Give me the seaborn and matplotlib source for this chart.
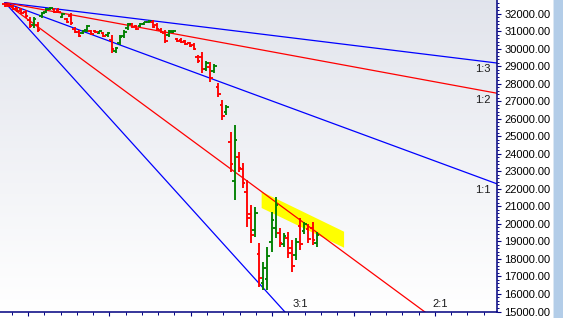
import numpy as np
import pandas as pd
import matplotlib
matplotlib.use("Agg")
import matplotlib.pyplot as plt
from matplotlib.patches import Rectangle, Polygon
import seaborn as sns

# ---------------- data ----------------
bar_index = list(range(77))
highs = [32626, 32592, 32495, 32380, 32323, 32209, 31810, 31810, 31524, 32095,
         32323, 32380, 32323, 32323, 32038, 31753, 32038, 31239, 31068, 31068,
         31353, 31068, 31068, 31028, 30953, 30971, 30782, 30114, 30782, 31068,
         31467, 31467, 31353, 31467, 31541, 31638, 31638, 31450, 31165, 31068,
         31068, 31068, 30594, 30594, 30497, 30400, 30326, 29641, 29812, 29298,
         29241, 29127, 28042, 27072, 26787, 25245, 25645, 24104, 23476, 22506,
         21079, 20964, 18910, 17825, 18681, 20679, 21535, 19766, 19480, 19537,
         19081, 19195, 20338, 20108, 19994, 20108, 19537]
lows = [32398, 32380, 32209, 32095, 31981, 31753, 31182, 31182, 30953, 31753,
        32038, 32209, 32038, 32038, 31753, 31467, 31353, 30896, 30668, 30839,
        30953, 30782, 30896, 30839, 30668, 30685, 29755, 29755, 30211, 30611,
        31068, 31182, 31068, 31239, 31353, 31467, 31165, 31068, 30879, 30308,
        30685, 30896, 30400, 30308, 30211, 30114, 29926, 29184, 28613, 28727,
        28099, 28613, 27243, 25930, 26216, 22962, 21364, 22962, 22049, 19823,
        18910, 19252, 16398, 16227, 16227, 18396, 19195, 18681, 18681, 18053,
        17254, 17939, 18510, 19423, 18910, 18795, 18681]
opens = [32570, 32540, 32420, 32310, 32240, 32100, 31650, 31340, 31380, 31840,
         32110, 32250, 32250, 32200, 31820, 31680, 31870, 31150, 30970, 30900,
         31050, 31000, 31030, 30890, 30880, 30760, 30520, 29850, 30350, 30720,
         31170, 31400, 31280, 31300, 31400, 31510, 31520, 31350, 31090, 30880,
         30780, 30940, 30550, 30520, 30420, 30330, 30230, 29530, 29510, 28870,
         28960, 28740, 27840, 26790, 26360, 24680, 22430, 23820, 23120, 21840,
         20540, 19680, 18280, 16630, 16840, 18970, 19780, 19500, 18880, 19170,
         18620, 18250, 19880, 19590, 19720, 19780, 18890]
closes = [32440, 32420, 32270, 32150, 32050, 31840, 31310, 31680, 31070, 32030,
          32270, 32350, 32100, 32080, 31980, 31520, 31490, 30960, 30750, 31020,
          31270, 30840, 30930, 30990, 30720, 30910, 29960, 30040, 30670, 30980,
          31390, 31240, 31120, 31420, 31500, 31600, 31260, 31150, 30940, 30460,
          30990, 31030, 30440, 30360, 30270, 30170, 30010, 29280, 28850, 29180,
          28330, 29020, 27400, 26160, 26670, 23420, 24790, 23190, 22330, 20360,
          19340, 20620, 16900, 17510, 18190, 20220, 21070, 18900, 19320, 18350,
          17620, 18940, 18880, 19970, 19130, 19060, 19370]

# Gann fan
fan_origin_x = 0
fan_origin_price = 32630
fan_unit_slope = 86.2          # price per bar for the 1:1 line
fan_ratios = [1/3, 1/2, 1, 2, 3]
fan_colors = ["#0000ff", "#ff0000", "#0000ff", "#ff0000", "#0000ff"]
fan_labels = ["1:3", "1:2", "1:1", "2:1", "3:1"]
fan_label_x = [116.6, 116.6, 116.6, 106.1, 72.0]
fan_label_y = [28841, 27072, 21935, 15428, 15428]

# highlighted zone
zone_x = [62.6, 82.7, 82.7, 62.6]
zone_y = [21838, 19555, 18641, 20907]

y_ticks = [15000, 16000, 17000, 18000, 19000, 20000, 21000, 22000, 23000,
           24000, 25000, 26000, 27000, 28000, 29000, 30000, 31000, 32000]

# ---------------- drawing ----------------
sns.set_style("white")
plt.rcParams["font.family"] = ["Liberation Sans", "DejaVu Sans"]

W, H = 563, 318
fig = plt.figure(figsize=(W / 100, H / 100), dpi=100)
fig.patch.set_facecolor("white")
ax = fig.add_axes([0, 6.5 / H, 497 / W, 311.5 / H])

# background gradient
grad = np.linspace(0, 1, 256).reshape(-1, 1)
top_c = np.array([0.885, 0.895, 0.925])
bot_c = np.array([1.0, 1.0, 1.0])
img = top_c[None, None, :] * (1 - grad[:, :, None]) + bot_c[None, None, :] * grad[:, :, None]
ax.imshow(img, extent=[0, 1, 0, 1], transform=ax.transAxes, aspect="auto", zorder=0)

# highlight zone
ax.add_patch(Polygon(list(zip(zone_x, zone_y)), closed=True, facecolor="#ffff00",
                     edgecolor="none", zorder=1))

# fan lines
x_end = 125
for r, c in zip(fan_ratios, fan_colors):
    df = pd.DataFrame({"x": [fan_origin_x, x_end],
                       "y": [fan_origin_price, fan_origin_price - fan_unit_slope * r * (x_end - fan_origin_x)]})
    sns.lineplot(data=df, x="x", y="y", color=c, lw=0.9, ax=ax, zorder=2)

for lab, lx, ly in zip(fan_labels, fan_label_x, fan_label_y):
    ax.text(lx, ly, lab, ha="center", va="center", fontsize=8, color="#1a1a1a", zorder=5)

# OHLC bars
ohlc = pd.DataFrame({"i": bar_index, "o": opens, "h": highs, "l": lows, "c": closes})
ohlc["color"] = np.where(ohlc["c"] >= ohlc["o"], "#008000", "#ff0000")
tw = 0.65
ax.vlines(ohlc["i"], ohlc["l"], ohlc["h"], colors=ohlc["color"], lw=1.35, zorder=3)
ax.hlines(ohlc["o"], ohlc["i"] - tw, ohlc["i"], colors=ohlc["color"], lw=1.35, zorder=3)
ax.hlines(ohlc["c"], ohlc["i"], ohlc["i"] + tw, colors=ohlc["color"], lw=1.35, zorder=3)

# axes
ax.set_xlim(-1.22, 120.0)
ax.set_ylim(15000, 32780)
ax.set_xlabel("")
ax.set_ylabel("")

navy = "#000080"
for s in ["top", "left"]:
    ax.spines[s].set_visible(False)
for s in ["right", "bottom"]:
    ax.spines[s].set_visible(True)
    ax.spines[s].set_color(navy)
    ax.spines[s].set_linewidth(1.1)

ax.yaxis.tick_right()
ax.set_yticks(y_ticks)
ax.set_yticks(np.arange(15000, 32800, 200), minor=True)
ax.set_yticklabels([f"{v:.2f}" for v in y_ticks])
ax.tick_params(axis="y", which="major", direction="out", length=3.2, width=0.8,
               color=navy, pad=2, labelsize=8, labelcolor="black", right=True, left=False)
ax.tick_params(axis="y", which="minor", direction="out", length=1.6, width=0.7,
               color=navy, right=True, left=False)

xt = np.arange(1.63, 120, 3.97)
ax.set_xticks(xt[1::5])
ax.set_xticks(xt, minor=True)
ax.set_xticklabels([])
ax.tick_params(axis="x", which="major", direction="out", length=3.2, width=0.8,
               color=navy, bottom=True, labelbottom=False)
ax.tick_params(axis="x", which="minor", direction="out", length=1.8, width=0.7,
               color=navy, bottom=True)

# side strip
fig.add_artist(Rectangle((553 / W, 0), 10 / W, 1, transform=fig.transFigure,
                         facecolor="#b3cde8", edgecolor="none"))
fig.add_artist(Rectangle((553 / W, 0), 1 / W, 1, transform=fig.transFigure,
                         facecolor="#dbe7f3", edgecolor="none"))

fig.savefig("out.png", dpi=100)
